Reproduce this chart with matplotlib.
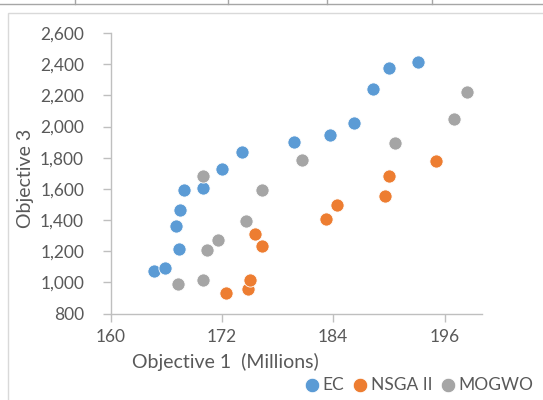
import matplotlib.pyplot as plt
from matplotlib.patches import Rectangle
from matplotlib.lines import Line2D

plt.rcParams['font.family'] = ['Lato', 'DejaVu Sans']

# EC
ec_x = [164.7, 165.9, 167.4, 167.1, 167.5, 167.9, 170.0, 172.0, 174.2, 179.8,
        183.7, 186.2, 188.3, 190.0, 193.1]
ec_y = [1070, 1092, 1214, 1362, 1467, 1593, 1606, 1730, 1837, 1899,
        1948, 2025, 2243, 2378, 2415]

# NSGA II
nsga_x = [172.4, 174.8, 175.0, 176.3, 175.6, 183.2, 184.4, 189.6, 190.0, 195.1]
nsga_y = [932, 957, 1015, 1235, 1308, 1405, 1499, 1557, 1683, 1779]

# MOGWO
mogwo_x = [167.3, 170.0, 170.4, 171.6, 174.6, 170.0, 176.3, 180.6, 190.7, 197.0, 198.45]
mogwo_y = [989, 1014, 1208, 1272, 1394, 1685, 1595, 1788, 1897, 2047, 2222]

x_ticks = [160, 172, 184, 196]
y_ticks = list(range(800, 2601, 200))

txt = '#595959'
axis_col = '#BFBFBF'

fig = plt.figure(figsize=(5.43, 4.00), dpi=100)

# chart frame and table edge above it
fig.add_artist(Rectangle((8 / 543, -0.1), 1.0, 1 - 13 / 400 + 0.1,
                         transform=fig.transFigure, fill=False,
                         edgecolor='#D9D9D9', lw=1.0))
fig.add_artist(Line2D([0, 1], [1 - 4 / 400, 1 - 4 / 400], transform=fig.transFigure,
                      color='#A6A6A6', lw=1.0))
for xv in [75, 228, 327, 432]:
    fig.add_artist(Line2D([xv / 543, xv / 543], [1 - 4 / 400, 1.0],
                          transform=fig.transFigure, color='#A6A6A6', lw=1.0))

ax = fig.add_axes([110.5 / 543, 1 - 313.5 / 400, (481.7 - 110.5) / 543, (313.5 - 33) / 400])

ms = 90
ax.scatter(ec_x, ec_y, s=ms, color='#5B9BD5', edgecolors='white', linewidths=0.6,
           label='EC', zorder=3)
ax.scatter(nsga_x, nsga_y, s=ms, color='#ED7D31', edgecolors='white', linewidths=0.6,
           label='NSGA II', zorder=3)
ax.scatter(mogwo_x, mogwo_y, s=ms, color='#A5A5A5', edgecolors='white', linewidths=0.6,
           label='MOGWO', zorder=3)

ax.set_xlim(160, 200)
ax.set_ylim(800, 2600)
ax.set_xticks(x_ticks)
ax.set_yticks(y_ticks)
ax.set_yticklabels([f'{v:,}' for v in y_ticks])

for s in ['top', 'right']:
    ax.spines[s].set_visible(False)
for s in ['left', 'bottom']:
    ax.spines[s].set_color(axis_col)
    ax.spines[s].set_linewidth(1.0)
ax.tick_params(axis='both', colors=axis_col, labelcolor=txt, labelsize=12.5,
               length=6, width=1.0, direction='out')
ax.tick_params(axis='x', pad=5)
ax.tick_params(axis='y', pad=13)

fig.text(25 / 543, 1 - 178 / 400, 'Objective 3', rotation=90, ha='center', va='center',
         fontsize=14, color=txt)
fig.text(225 / 543, 1 - 362 / 400, 'Objective 1  (Millions)', ha='center', va='center',
         fontsize=14, color=txt)

leg = fig.legend(loc='center right', bbox_to_anchor=(540 / 543, 1 - 385 / 400),
                 ncol=3, frameon=False, fontsize=12.5, handletextpad=0.0,
                 columnspacing=0.3, markerscale=1.1, borderaxespad=0, handlelength=1.2)
for t in leg.get_texts():
    t.set_color(txt)

fig.savefig('out.png', dpi=100)
